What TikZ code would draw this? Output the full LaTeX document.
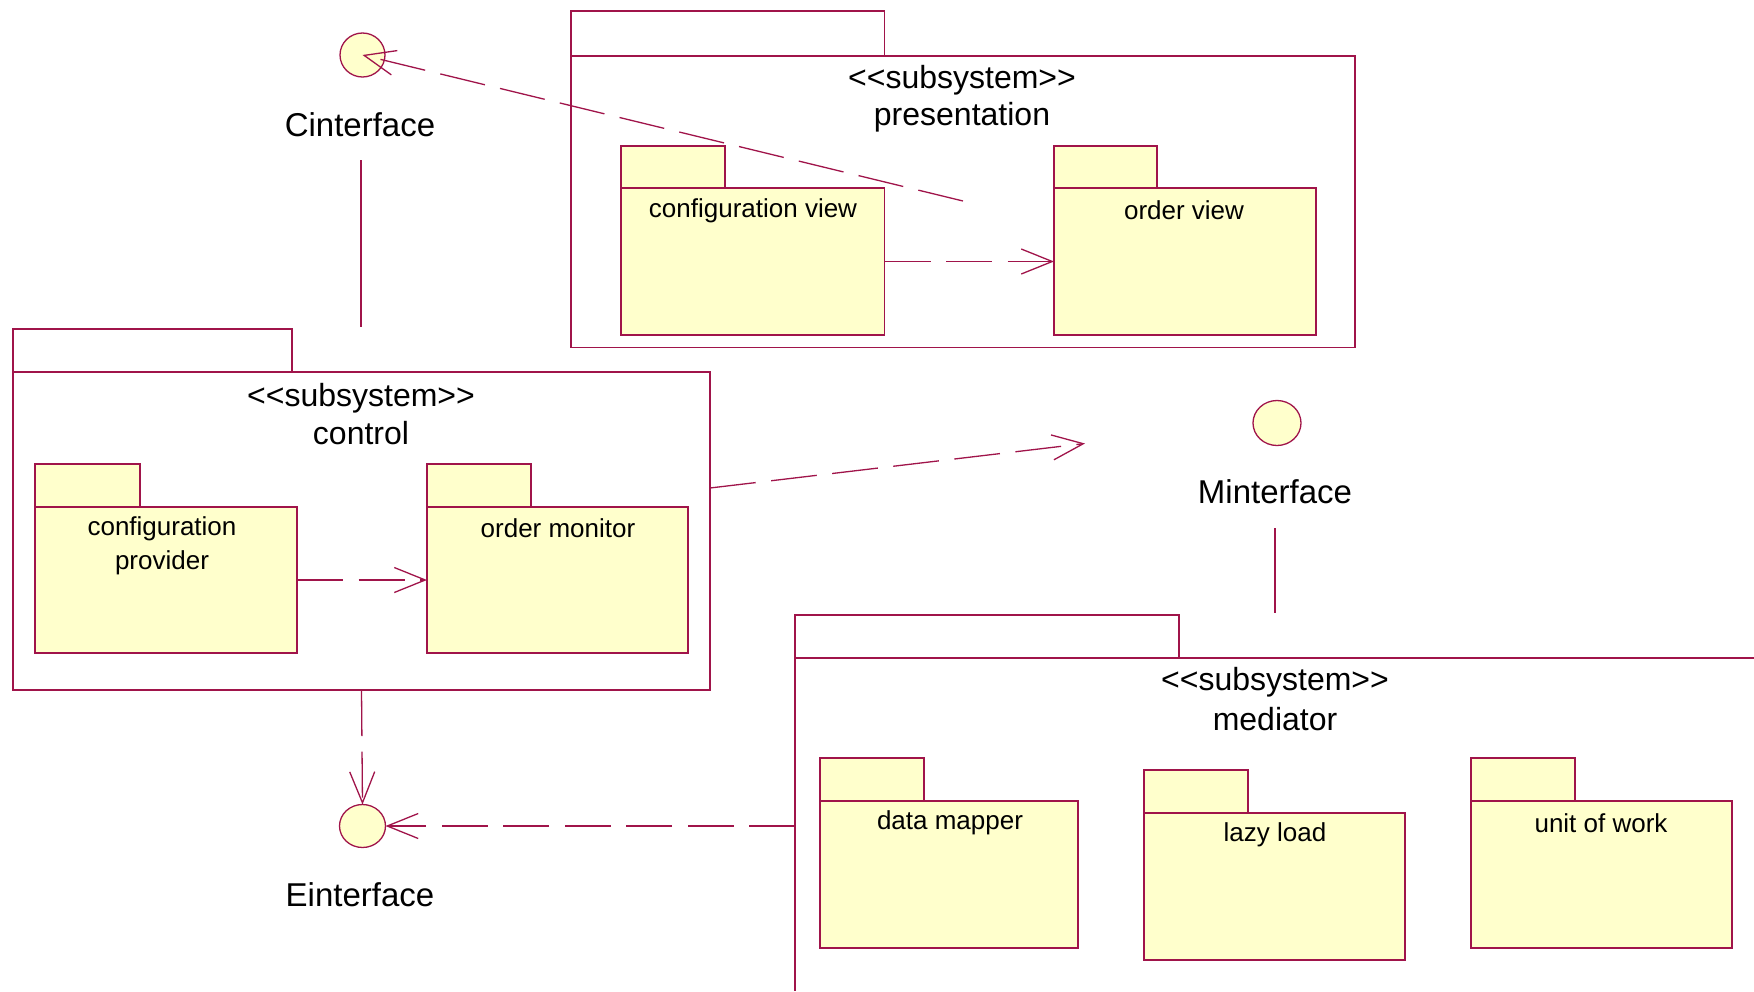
\documentclass[tikz,border=0pt]{standalone}
\usepackage{fontspec}
\setmainfont{Liberation Sans}
\usetikzlibrary{arrows.meta,shapes.geometric}
\definecolor{lc}{HTML}{A0144A}
\definecolor{pf}{HTML}{FFFFCC}
\newcommand{\stereo}{<\kern0pt<subsystem>\kern0pt>}
\tikzset{
  ln/.style={draw=lc, line width=1.3pt},
  dep/.style={ln, dash pattern=on 46pt off 15.5pt, -{Straight Barb[length=31pt,width=25pt,line width=1.3pt]}},
  box/.style={draw=lc, line width=1.3pt, anchor=north west, inner sep=0pt, outer sep=0pt},
  pkgbody/.style={box, fill=pf},
  pkgtab/.style={box, fill=pf},
  subtab/.style={box},
  subbody/.style={box},
  iface/.style={ellipse, draw=lc, fill=pf, line width=1.3pt, inner sep=0pt, outer sep=0pt},
  ifacelabel/.style={font=\fontsize{33}{38}\selectfont, inner sep=0pt},
  title/.style={font=\fontsize{32}{37}\selectfont, inner sep=0pt},
  pkglabel/.style={font=\fontsize{26}{32}\selectfont, inner sep=0pt, align=center}
}
\begin{document}
\begin{tikzpicture}[x=1pt,y=-1pt]
\useasboundingbox (0,0) rectangle (1754,991);
% ---------- presentation subsystem
\node[subtab, minimum width=313.5pt, minimum height=45pt] (prestab) at (571,11) {};
\node[subbody, minimum width=784pt, minimum height=291.5pt] (pres) at (571,56) {};
\node[title] (prest1) at (962,80) {\stereo};
\node[title] (prest2) at (962,117) {presentation};
\node[pkgtab, minimum width=104pt, minimum height=43pt] (cvtab) at (621,146) {};
\node[pkgbody, minimum width=263.5pt, minimum height=147pt] (cv) at (621,188) {};
\node[pkglabel] (cvl) at (753,211) {configuration view};
\node[pkgtab, minimum width=103pt, minimum height=43pt] (ovtab) at (1054,146) {};
\node[pkgbody, minimum width=262pt, minimum height=147pt] (ov) at (1054,188) {};
\node[pkglabel] (ovl) at (1184,210) {order view};
% ---------- control subsystem
\node[subtab, minimum width=279pt, minimum height=43pt] (ctrltab) at (13,329) {};
\node[subbody, minimum width=697pt, minimum height=318pt] (ctrl) at (13,372) {};
\node[title] (ctrlt1) at (361,398) {\stereo};
\node[title] (ctrlt2) at (361,433) {control};
\node[pkgtab, minimum width=105pt, minimum height=43pt] (cptab) at (35,464) {};
\node[pkgbody, minimum width=262pt, minimum height=146pt] (cp) at (35,507) {};
\node[pkglabel] (cpl) at (162,546) {configuration\\[2pt]provider};
\node[pkgtab, minimum width=104pt, minimum height=43pt] (omtab) at (427,464) {};
\node[pkgbody, minimum width=261pt, minimum height=146pt] (om) at (427,507) {};
\node[pkglabel] (oml) at (558,528) {order monitor};
% ---------- mediator subsystem
\node[subtab, minimum width=384pt, minimum height=43pt] (medtab) at (795,615) {};
\coordinate (medTL) at (795,658);
\coordinate (medTR) at (1754,658);
\coordinate (medBL) at (795,991);
\draw[ln] (medTR) -- (medTL) -- (medBL);
\node[title] (medt1) at (1275,682) {\stereo};
\node[title] (medt2) at (1275,719) {mediator};
\node[pkgtab, minimum width=104pt, minimum height=43pt] (dmtab) at (820,758) {};
\node[pkgbody, minimum width=258pt, minimum height=147pt] (dm) at (820,801) {};
\node[pkglabel] (dml) at (950,823) {data mapper};
\node[pkgtab, minimum width=104pt, minimum height=43pt] (lltab) at (1144,770) {};
\node[pkgbody, minimum width=261pt, minimum height=147pt] (ll) at (1144,813) {};
\node[pkglabel] (lll) at (1275,835) {lazy load};
\node[pkgtab, minimum width=104pt, minimum height=43pt] (uwtab) at (1471,758) {};
\node[pkgbody, minimum width=261pt, minimum height=147pt] (uw) at (1471,801) {};
\node[pkglabel] (uwl) at (1601,823) {unit of work};
% ---------- interfaces
\node[iface, minimum width=45pt, minimum height=44pt] (ci) at (362.5,55) {};
\node[ifacelabel] (cil) at (360,125) {Cinterface};
\node[iface, minimum width=48pt, minimum height=45pt] (mi) at (1277,423) {};
\node[ifacelabel] (mil) at (1275,492) {Minterface};
\node[iface, minimum width=46pt, minimum height=43pt] (ei) at (362.5,826) {};
\node[ifacelabel] (eil) at (360,895) {Einterface};
% ---------- connectors
\coordinate (ciA) at (361,160);
\coordinate (ciB) at (361,327);
\draw[ln] (ciA) -- (ciB);
\coordinate (miA) at (1275,528);
\coordinate (miB) at (1275,613);
\draw[ln] (miA) -- (miB);
\coordinate (presSrc) at (963,201);
\draw[dep] (presSrc) -- (ci.center);
\draw[dep] (cv.east) -- (ov.west);
\draw[dep] (cp.east) -- (om.west);
\coordinate (ctrlE) at (710,488);
\coordinate (miTip) at (1085,443.5);
\draw[dep] (ctrlE) -- (miTip);
\draw[dep] (ctrl.south) -- (ei.north);
\coordinate (medW) at (795,826);
\draw[dep] (medW) -- (ei.east);
\end{tikzpicture}
\end{document}
